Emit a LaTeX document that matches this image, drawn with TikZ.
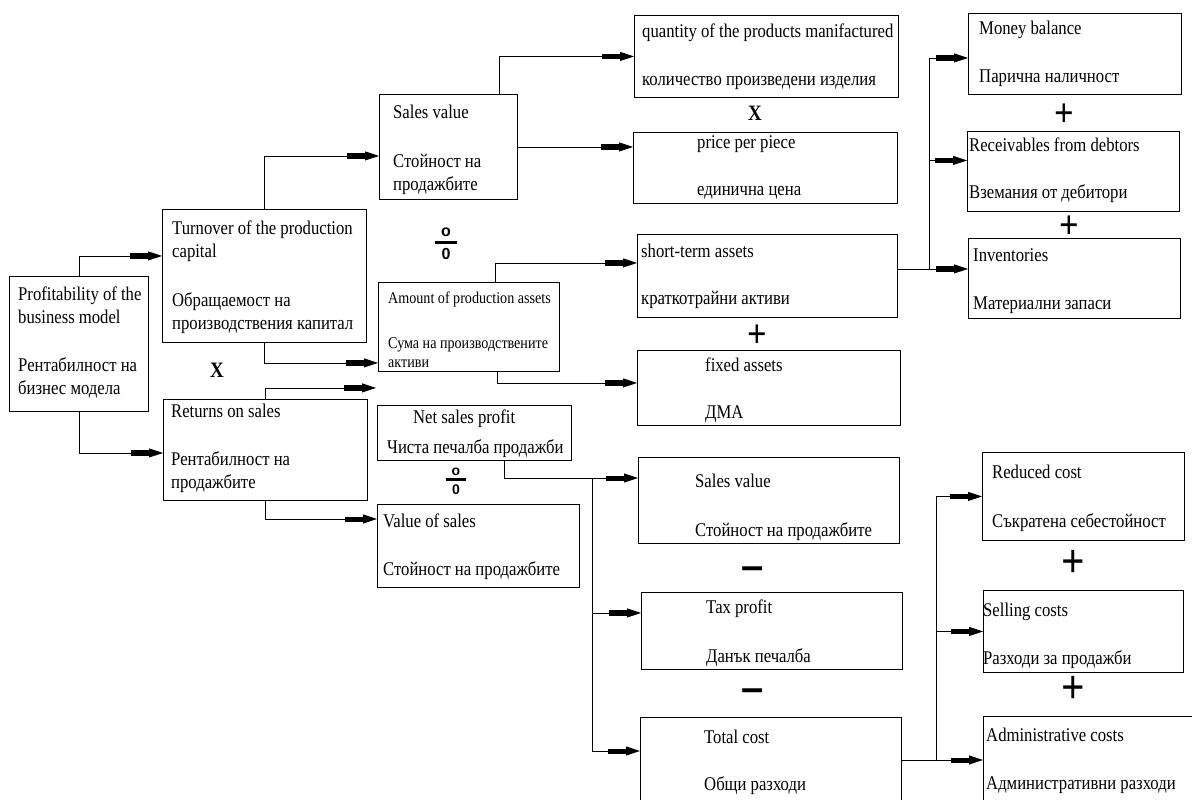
\documentclass[tikz,border=0pt]{standalone}
\usepackage{fontspec}
\setmainfont{Liberation Serif}[FakeStretch=0.86]
\setsansfont{Liberation Sans}
\usetikzlibrary{positioning,calc,arrows.meta}
\newcommand*{\opsize}[1]{\fontsize{#1}{#1}\selectfont}

\begin{document}
\begin{tikzpicture}[x=1pt,y=-1pt,
  box/.style={draw,line width=0.9pt,anchor=north west,inner sep=0pt},
  txt/.style={anchor=north west,inner sep=0pt,align=left,font=\fontsize{19.4}{23}\selectfont},
  link/.style={line width=0.8pt},
  fat/.style={link,-{Rectangle[length=18pt,width=5pt]Triangle[length=14pt,width=9pt]}},
  timesop/.style={font=\bfseries\opsize{22},inner sep=0pt},
  plusop/.style={font=\bfseries\opsize{40},inner sep=0pt},
  minusop/.style={font=\sffamily\bfseries\opsize{40},inner sep=0pt},
  divop/.style={font=\sffamily\bfseries\opsize{16},inner sep=0pt}]
\useasboundingbox (0,0) rectangle (1192,800);
% Boxes
\node[box,minimum width=139,minimum height=135] (prof)  at (9,276)   {};
\node[box,minimum width=204,minimum height=133] (turn)  at (162,209) {};
\node[box,minimum width=204,minimum height=101] (ret)   at (163,399) {};
\node[box,minimum width=138,minimum height=105] (sv1)   at (379,94)  {};
\node[box,minimum width=181,minimum height=89]  (amt)   at (378,282) {};
\node[box,minimum width=194,minimum height=55]  (nsp)   at (377,405) {};
\node[box,minimum width=202,minimum height=83]  (vos)   at (377,504) {};
\node[box,minimum width=264,minimum height=82]  (qty)   at (634,15)  {};
\node[box,minimum width=264,minimum height=71]  (price) at (633,132) {};
\node[box,minimum width=260,minimum height=83]  (sta)   at (637,234) {};
\node[box,minimum width=263,minimum height=75]  (fa)    at (637,350) {};
\node[box,minimum width=213,minimum height=81]  (mb)    at (968,13)  {};
\node[box,minimum width=212,minimum height=80]  (rec)   at (967,131) {};
\node[box,minimum width=212,minimum height=80]  (inv)   at (968,238) {};
\node[box,minimum width=261,minimum height=86]  (sv2)   at (638,457) {};
\node[box,minimum width=261,minimum height=77]  (tax)   at (641,592) {};
\node[box,minimum width=261,minimum height=95]  (tc)    at (640,717) {};
\node[box,minimum width=202,minimum height=88]  (rc)    at (982,452) {};
\node[box,minimum width=200,minimum height=82]  (sc)    at (983,590) {};
\node[box,minimum width=215,minimum height=95]  (ac)    at (983,716) {};
% Texts of the boxes
\node[txt] (profT)  at (18,284)  {\strut Profitability of the\\business model\\[25pt]Рентабилност на\\бизнес модела};
\node[txt] (turnT)  at (172,218) {\strut Turnover of the production\\capital\\[26pt]Обращаемост на\\производствения капитал};
\node[txt] (retT)   at (171,401) {\strut Returns on sales\\[25pt]Рентабилност на\\продажбите};
\node[txt] (sv1T)   at (393,102) {\strut Sales value\\[26pt]Стойност на\\продажбите};
\node[txt,font=\fontsize{16.4}{19}\selectfont] (amtT) at (388,290) {\strut Amount of production assets\\[26pt]Сума на производствените\\активи};
\node[txt] (nspT)   at (387,407) {\strut\hspace*{26pt}Net sales profit\\[7pt]Чиста печалба продажби};
\node[txt] (vosT)   at (383,511) {\strut Value of sales\\[25pt]Стойност на продажбите};
\node[txt] (qtyT)   at (642,21)  {\strut quantity of the products manifactured\\[25pt]количество произведени изделия};
\node[txt] (priceT) at (697,132) {\strut price per piece\\[24pt]единична цена};
\node[txt] (staT)   at (641,241) {\strut short-term assets\\[24pt]краткотрайни активи};
\node[txt] (faT)    at (705,355) {\strut fixed assets\\[24pt]ДМА};
\node[txt] (mbT)    at (979,18)  {\strut Money balance\\[25pt]Парична наличност};
\node[txt] (recT)   at (969,135) {\strut Receivables from debtors\\[24pt]Вземания от дебитори};
\node[txt] (invT)   at (973,245) {\strut Inventories\\[25pt]Материални запаси};
\node[txt] (sv2T)   at (695,471) {\strut Sales value\\[26pt]Стойност на продажбите};
\node[txt] (taxT)   at (706,597) {\strut Tax profit\\[26pt]Данък печалба};
\node[txt] (tcT)    at (704,727) {\strut Total cost\\[24pt]Общи разходи};
\node[txt] (rcT)    at (992,462) {\strut Reduced cost\\[26pt]Съкратена себестойност};
\node[txt] (scT)    at (983,600) {\strut Selling costs\\[25pt]Разходи за продажби};
\node[txt] (acT)    at (986,725) {\strut Administrative costs\\[25pt]Административни разходи};
% Operators
\node[timesop] (times1) at (217,370) {X};
\node[timesop] (times2) at (755,113) {X};
\node[divop] (div1) at (446,244) {\shortstack{o\\[1pt]\rule{22pt}{3.5pt}\\[1pt]0}};
\node[divop,font=\sffamily\bfseries\opsize{14}] (div2) at (456,481) {\shortstack{o\\\rule{20pt}{3pt}\\0}};
\node[plusop] (plus1) at (757,336) {+};
\node[plusop] (plus2) at (1064,115) {+};
\node[plusop] (plus3) at (1069,227) {+};
\node[plusop,font=\bfseries\opsize{48}] (plus4) at (1073,564) {+};
\node[plusop,font=\bfseries\opsize{48}] (plus5) at (1073,690) {+};
\node[minusop] (minus1) at (753,573) {–};
\node[minusop] (minus2) at (753,695) {–};
% Connectors
\draw[fat] (prof.north) |- ($(turn.west)+(0,-20)$);
\draw[fat] (prof.south) |- ($(ret.west)+(0,3)$);
\draw[fat] (turn.north) |- ($(sv1.west)+(0,9)$);
\draw[fat] (turn.south) |- ($(amt.south west)+(0,-9)$);
\draw[fat] (ret.north) |- ($(amt.south west)+(-2,16)$);
\draw[fat] (ret.south) |- ($(vos.north west)+(0,15)$);
\draw[fat] ($(sv1.north east)+(-19,0)$) |- (qty.west);
\draw[fat] (sv1.east) -- (sv1.east -| price.west);
\draw[fat] ($(amt.north east)+(-65,0)$) |- ($(sta.west)+(0,-13)$);
\draw[fat] ($(amt.south east)+(-63,0)$) |- ($(fa.west)+(0,-5)$);
% Bus to the current assets
\coordinate (busA) at ($(sta.east)+(31,-7)$);
\draw[link] ($(sta.east)+(0,-7)$) -- (busA);
\draw[fat] (busA) -- (busA -| inv.west);
\draw[fat] (busA) |- ($(rec.west)+(0,-11)$);
\draw[fat] (busA) |- ($(mb.west)+(0,4)$);
% Bus to the parts of the profit
\coordinate (busB) at ($(sv2.north west)+(-46,21)$);
\draw[link] ($(nsp.south east)+(-68,0)$) |- (busB);
\draw[fat] (busB) -- (busB -| sv2.west);
\draw[fat] (busB) |- ($(tax.west)+(0,-18)$);
\draw[fat] (busB) |- ($(tc.north west)+(0,34)$);
% Bus to the costs
\coordinate (busC) at ($(tc.north west)+(296,43)$);
\draw[link] (busC -| tc.east) -- (busC);
\draw[fat] (busC) -- (busC -| ac.west);
\draw[fat] (busC) |- (sc.west);
\draw[fat] (busC) |- (rc.west);
\end{tikzpicture}
\end{document}
